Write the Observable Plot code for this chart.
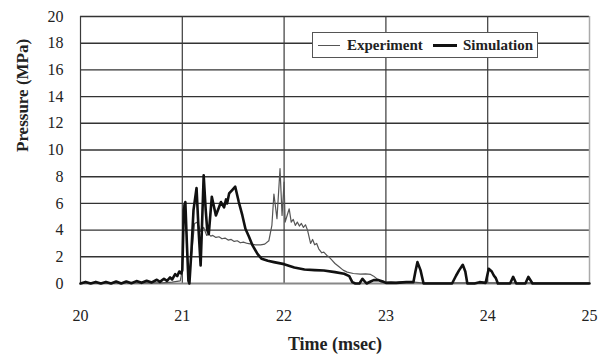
<!DOCTYPE html>
<html>
<head>
<meta charset="utf-8">
<script src="https://cdn.jsdelivr.net/npm/d3@7"></script>
<script src="https://cdn.jsdelivr.net/npm/@observablehq/plot@0.6"></script>
<style>
  body { margin: 0; background: #fff; }
  #wrap { position: relative; width: 610px; height: 360px; }
  #wrap svg, #wrap svg text { font-family: 'Liberation Serif' !important; }
  #legend {
    position: absolute; left: 312px; top: 32px; width: 224px; height: 24px;
    border: 1px solid #555; background: #fff;
    font-family: 'Liberation Serif'; font-weight: bold; font-size: 15px; color: #222;
  }
  #legend .sw { position: absolute; top: 12px; }
  #legend .tx { position: absolute; top: 3px; line-height: 18px; white-space: nowrap; }
</style>
</head>
<body>
<div id="wrap"></div>
<script>
// ---- data ----
const seriesNames = ["Experiment", "Simulation"];
const xTicks = [20, 21, 22, 23, 24, 25];
const yTicks = [0, 2, 4, 6, 8, 10, 12, 14, 16, 18, 20];

const expTime = [20.00, 20.10, 20.20, 20.30, 20.40, 20.50, 20.60, 20.70, 20.80, 20.90, 20.98,
  21.00, 21.01, 21.02, 21.04, 21.06, 21.09, 21.12, 21.15, 21.18, 21.21, 21.24, 21.26, 21.28,
  21.30, 21.33, 21.36, 21.39, 21.42, 21.45, 21.48, 21.51, 21.54, 21.57, 21.60, 21.64, 21.68,
  21.72, 21.77, 21.81, 21.85, 21.88, 21.90, 21.93, 21.96, 21.98, 22.00, 22.01, 22.05, 22.07,
  22.09, 22.11, 22.13, 22.15, 22.17, 22.19, 22.21, 22.23, 22.26, 22.28, 22.30, 22.32, 22.34,
  22.37, 22.39, 22.42, 22.44, 22.47, 22.50, 22.54, 22.58, 22.62, 22.68, 22.75, 22.80, 22.85,
  22.88, 22.92, 22.95, 23.00, 23.05, 23.10, 23.15, 23.20, 23.25, 23.35, 23.50, 24.00, 24.50, 25.00];
const expPressure = [0.05, 0.05, 0.05, 0.05, 0.05, 0.05, 0.05, 0.05, 0.05, 0.1, 0.2,
  1.0, 5.8, 6.0, 4.0, 0.5, 2.0, 4.5, 4.6, 3.9, 4.2, 3.6, 3.7, 3.55,
  3.6, 3.45, 3.5, 3.35, 3.4, 3.25, 3.3, 3.15, 3.2, 3.05, 3.1, 3.0, 2.95,
  2.9, 2.9, 2.95, 3.2, 4.35, 6.7, 4.85, 8.6, 5.1, 7.6, 4.6, 5.6, 4.6,
  4.8, 4.35, 4.6, 4.3, 4.5, 4.2, 4.4, 4.0, 3.0, 3.3, 2.9, 3.0, 2.6,
  2.3, 2.35, 2.1, 2.0, 1.75, 1.5, 1.25, 1.0, 0.85, 0.75, 0.7, 0.72, 0.68,
  0.55, 0.3, 0.12, 0.08, 0.12, 0.08, 0.12, 0.08, 0.12, 0.05, 0.05, 0.05, 0.05, 0.05];

const simTime = [20.00, 20.05, 20.10, 20.15, 20.20, 20.25, 20.30, 20.35, 20.40, 20.45, 20.50,
  20.55, 20.60, 20.65, 20.70, 20.75, 20.78, 20.82, 20.85, 20.88, 20.90, 20.93, 20.95, 20.97,
  20.99, 21.00, 21.015, 21.03, 21.045, 21.06, 21.07, 21.09, 21.11, 21.14, 21.16, 21.18, 21.19,
  21.21, 21.23, 21.245, 21.26, 21.29, 21.33, 21.38, 21.41, 21.43, 21.44, 21.46, 21.49, 21.52,
  21.555, 21.59, 21.62, 21.655, 21.69, 21.74, 21.78, 21.84, 21.90, 22.00, 22.10, 22.20, 22.30,
  22.39, 22.50, 22.59, 22.64, 22.67, 22.70, 22.74, 22.77, 22.81, 22.85, 22.88, 22.93, 22.97,
  23.00, 23.10, 23.20, 23.27, 23.29, 23.31, 23.34, 23.37, 23.65, 23.69, 23.72, 23.755, 23.78,
  23.80, 23.87, 23.92, 23.98, 24.01, 24.04, 24.06, 24.08, 24.10, 24.22, 24.25, 24.28, 24.37,
  24.40, 24.44, 25.00];
const simPressure = [0.0, 0.12, 0.0, 0.12, 0.0, 0.12, 0.0, 0.15, 0.0, 0.15, 0.02,
  0.18, 0.05, 0.2, 0.08, 0.28, 0.12, 0.35, 0.2, 0.45, 0.3, 0.7, 0.55, 0.9,
  0.75, 1.0, 5.5, 6.1, 3.0, 0.2, 0.0, 2.5, 5.5, 7.15, 4.0, 1.35, 3.5,
  8.1, 5.5, 4.0, 3.7, 6.5, 5.1, 6.1, 5.7, 6.3, 6.0, 6.75, 7.0, 7.25,
  6.1, 5.1, 4.1, 3.5, 2.85, 2.2, 1.85, 1.7, 1.6, 1.45, 1.2, 1.05, 1.0,
  0.97, 0.85, 0.73, 0.55, 0.1, 0.0, 0.0, 0.35, 0.0, 0.15, 0.25, 0.25, 0.15,
  0.05, 0.05, 0.1, 0.1, 0.9, 1.6, 1.0, 0.0, 0.0, 0.6, 1.0, 1.4, 0.9,
  0.0, 0.0, 0.1, 0.05, 1.1, 0.9, 0.6, 0.4, 0.0, 0.0, 0.5, 0.0, 0.0,
  0.5, 0.0, 0.0];

const expData = expTime.map((t, i) => ({t, p: expPressure[i]}));
const simData = simTime.map((t, i) => ({t, p: simPressure[i]}));

const serif = "Liberation Serif";

const chart = Plot.plot({
  width: 610,
  height: 360,
  marginLeft: 80,
  marginRight: 21,
  marginTop: 16,
  marginBottom: 77,
  style: {fontFamily: serif, fontSize: "16px", color: "#222", background: "#fff"},
  x: {domain: [20, 25]},
  y: {domain: [0, 20]},
  marks: [
    Plot.ruleY(yTicks.filter(d => d > 0), {stroke: "#333", strokeWidth: 1.4}),
    Plot.ruleX(xTicks.filter(d => d < 25), {stroke: "#3a3a3a", strokeWidth: 1.2}),
    Plot.ruleX(xTicks.filter(d => d === 25), {stroke: "#aaa", strokeWidth: 1.5}),
    Plot.ruleY([0], {stroke: "#888", strokeWidth: 2}),
    Plot.line(expData, {x: "t", y: "p", stroke: "#555", strokeWidth: 1.2}),
    Plot.line(simData, {x: "t", y: "p", stroke: "#111", strokeWidth: 2.6, strokeLinejoin: "round"}),
    Plot.axisY({ticks: yTicks, tickSize: 0, tickPadding: 17, label: null, fontSize: 16, fontFamily: serif, tickFormat: "d"}),
    Plot.axisX({ticks: xTicks, tickSize: 0, tickPadding: 26, label: null, fontSize: 16, fontFamily: serif, tickFormat: "d"}),
    Plot.text(["Time (msec)"], {frameAnchor: "bottom", dy: 66, fontWeight: "bold", fontSize: 18, fontFamily: serif, fill: "#222"}),
    Plot.text(["Pressure (MPa)"], {frameAnchor: "left", dx: -58, dy: 2, rotate: -90, fontWeight: "bold", fontSize: 17, fontFamily: serif, fill: "#222"})
  ]
});

const wrap = document.getElementById("wrap");
wrap.appendChild(chart);

const legend = document.createElement("div");
legend.id = "legend";
legend.innerHTML =
  '<div class="sw" style="left:5px;width:22px;border-top:1px solid #555"></div>' +
  '<div class="tx" style="left:34px">' + seriesNames[0] + '</div>' +
  '<div class="sw" style="left:120px;width:24px;border-top:3px solid #111;top:11px"></div>' +
  '<div class="tx" style="left:150px">' + seriesNames[1] + '</div>';
wrap.appendChild(legend);
</script>
</body>
</html>
